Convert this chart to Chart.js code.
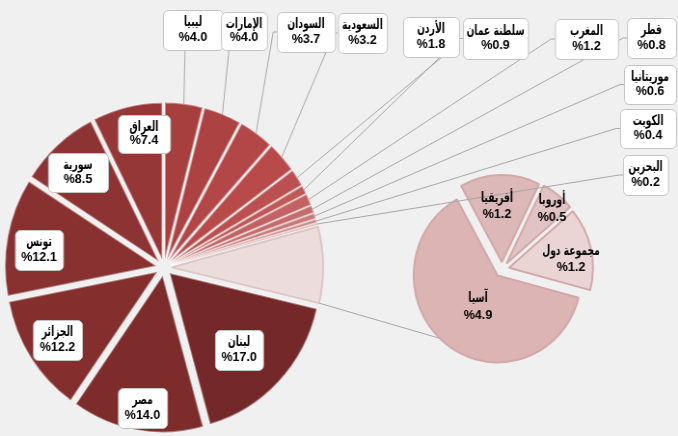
<!DOCTYPE html>
<html><head><meta charset="utf-8">
<script src="https://cdn.jsdelivr.net/npm/chart.js@4/dist/chart.umd.min.js"></script>
<style>
html,body{margin:0;padding:0;background:#f0f0f0;width:678px;height:436px;overflow:hidden;}
#wrap{position:relative;width:678px;height:436px;}
#wrap canvas{position:absolute;left:0;top:0;}
</style></head><body>
<div id="wrap">
<canvas id="main" width="703" height="436" style="width:678px;height:436px"></canvas>
<canvas id="sub" width="703" height="436" style="width:678px;height:436px"></canvas>
</div>
<script>
// ---------------- DATA ----------------
const mainCategories = ['ليبيا','الإمارات','السودان','السعودية','الأردن','سلطنة عمان','المغرب','قطر','موريتانيا','الكويت','البحرين','أخرى','لبنان','مصر','الجزائر','تونس','سورية','العراق'];
const mainValues = [4.0,4.0,3.7,3.2,1.8,0.9,1.2,0.8,0.6,0.4,0.2,7.8,17.0,14.0,12.2,12.1,8.5,7.4];
const subCategories = ['أفريقيا','أوروبا','مجموعة دول','آسيا'];
const subValues = [1.2,0.5,1.2,4.9];
const OTHER_INDEX = 11;

// ---------------- STYLE / LAYOUT ----------------
const mainColors = ['#a83f3f','#ad4242','#b34646','#b84a4a','#bc5050','#bf5858','#c26262','#c56d6d','#c97979','#cd8686','#d29595','#ecdcdc','#752829','#7d2b2b','#842e2e','#893030','#8e3333','#953737'];
const mainBorders = mainColors.map((c,i)=> i===OTHER_INDEX ? '#dcc7c7' : 'rgba(255,255,255,0.4)');
const subColors = ['#dcb8b8','#e2c3c3','#ebd4d4','#dcb4b4'];
const S = 678/703;               // horizontal squash of the picture
const X = x => x / S;            // picture x -> canvas x
const FONT = 'bold 13px "Liberation Sans", Arial, "DejaVu Sans", sans-serif';
const NAME_FONT = 'bold 14px "DejaVu Sans", "Liberation Sans", sans-serif';
const NAME_SQUEEZE = 0.68;
const EXPLODE = {main: 8, sub: 7.5};
// label rectangles in picture pixels [left, top, right, bottom]
const mainLabelRects = [
  [163,10,223,50],[221,12,267,50],[277,12,335,52],[338,13,387,53],[403,17,459,57],
  [463,18,528,59],[555,19,618,59],[627,18,676,58],[624,65,676,104],[620,109,676,148],
  [623,155,668,195], null,
  [215,330,263,370],[118,388,167,428],[33,320,82,360],[15,230,63,270],[48,153,108,192],[118,115,170,153]
];
const leaderAnchors = [['b',185],['b',229],['l'],['l'],['b',442],['l'],['l'],['l'],['l'],['l'],['l'],null,null,null,null,null,null,null];
const subLabelCenters = [[497,206],[552,208.5],[571,259],[478,306.5]];

const fmt = v => '%' + v.toFixed(1);

// exploded slices: translate every arc along its bisector
const ArcEl = Chart.registry.getElement('arc');
const origDraw = ArcEl.prototype.draw;
ArcEl.prototype.draw = function(ctx){
  const d = EXPLODE[ctx.canvas.id] || 0;
  const half = (this.startAngle + this.endAngle) / 2;
  ctx.save();
  ctx.translate(Math.cos(half)*d, Math.sin(half)*d);
  origDraw.call(this, ctx);
  ctx.restore();
};

function rr(ctx,x,y,w,h,r){
  ctx.beginPath();ctx.moveTo(x+r,y);ctx.arcTo(x+w,y,x+w,y+h,r);ctx.arcTo(x+w,y+h,x,y+h,r);
  ctx.arcTo(x,y+h,x,y,r);ctx.arcTo(x,y,x+w,y,r);ctx.closePath();
}
function drawName(ctx, text, x, y){
  ctx.save();
  ctx.font = NAME_FONT;
  ctx.translate(x, y);
  ctx.scale(NAME_SQUEEZE, 1);
  ctx.fillText(text, 0, 0);
  ctx.restore();
}

const baseOpts = {responsive:false, animation:false, devicePixelRatio:1, events:[],
  plugins:{legend:{display:false}, tooltip:{enabled:false}}};

const chart1 = new Chart(document.getElementById('main'), {
  type:'pie',
  data:{labels:mainCategories, datasets:[{data:mainValues, backgroundColor:mainColors,
    borderColor:mainBorders, borderWidth:2, radius:157}]},
  options:Object.assign({}, baseOpts, {rotation:0,
    layout:{padding:{left:0,right:363,top:99,bottom:0}}})
});

const overlay = {
  id:'overlay',
  beforeDatasetsDraw(chart){
    const ctx = chart.ctx;
    const m = chart1.getDatasetMeta(0).data[OTHER_INDEX];
    const s = chart.getDatasetMeta(0).data[3];
    const mid = (m.startAngle+m.endAngle)/2;
    const sx = m.x + Math.cos(m.endAngle)*m.outerRadius + Math.cos(mid)*EXPLODE.main;
    const sy = m.y + Math.sin(m.endAngle)*m.outerRadius + Math.sin(mid)*EXPLODE.main;
    ctx.save();
    ctx.strokeStyle='#a6a6a6'; ctx.lineWidth=1;
    ctx.beginPath(); ctx.moveTo(sx,sy); ctx.lineTo(s.x, s.y + s.outerRadius); ctx.stroke();
    ctx.restore();
  },
  afterDatasetsDraw(chart){
    const ctx = chart.ctx;
    ctx.save();
    // leader lines
    const arcs = chart1.getDatasetMeta(0).data;
    ctx.strokeStyle='#a8a8a8'; ctx.lineWidth=1;
    leaderAnchors.forEach((a,i)=>{
      if(!a) return;
      const arc = arcs[i];
      const mid = (arc.startAngle+arc.endAngle)/2;
      const r = arc.outerRadius + EXPLODE.main - 1;
      const px = arc.x + Math.cos(mid)*r, py = arc.y + Math.sin(mid)*r;
      const rect = mainLabelRects[i];
      ctx.beginPath(); ctx.moveTo(px,py);
      if(a[0]==='b'){ ctx.lineTo(X(a[1]), rect[3]); }
      else { const ly=(rect[1]+rect[3])/2; ctx.lineTo(X(rect[0])-4, ly); ctx.lineTo(X(rect[0]), ly); }
      ctx.stroke();
    });
    // secondary labels
    ctx.font = FONT; ctx.fillStyle='#000'; ctx.textAlign='center'; ctx.textBaseline='middle';
    subCategories.forEach((n,i)=>{
      const [cx,cy] = subLabelCenters[i];
      drawName(ctx, n, X(cx), cy-8);
      ctx.font = FONT;
      ctx.fillText(fmt(subValues[i]), X(cx), cy+8.5);
    });
    // label boxes of main pie
    mainLabelRects.forEach((r,i)=>{
      if(!r) return;
      const x=X(r[0]), w=X(r[2])-X(r[0]), y=r[1], h=r[3]-r[1];
      rr(ctx,x+0.5,y+0.5,w,h,5);
      ctx.fillStyle='#ffffff'; ctx.fill();
      ctx.strokeStyle='#c4c4c4'; ctx.lineWidth=1; ctx.stroke();
      ctx.fillStyle='#000';
      drawName(ctx, mainCategories[i], x+w/2, y+h*0.32);
      ctx.font = FONT;
      ctx.fillText(fmt(mainValues[i]), x+w/2, y+h*0.68);
    });
    ctx.restore();
  }
};

const chart2 = new Chart(document.getElementById('sub'), {
  type:'pie',
  data:{labels:subCategories, datasets:[{data:subValues, backgroundColor:subColors,
    borderColor:'#d3a8a8', borderWidth:2, radius:87}]},
  options:Object.assign({}, baseOpts, {rotation:-29,
    layout:{padding:{left:430,right:92,top:180,bottom:77}}}),
  plugins:[overlay]
});
</script>
</body></html>
